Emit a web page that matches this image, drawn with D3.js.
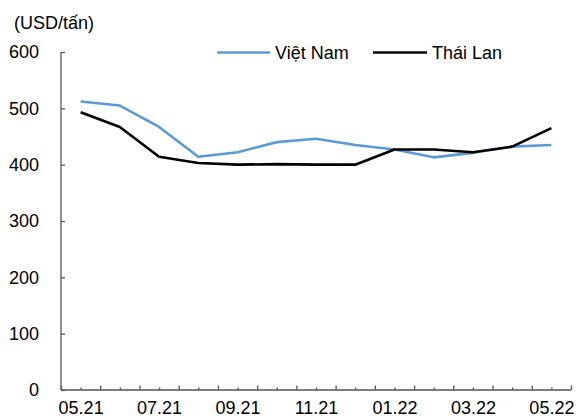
<!DOCTYPE html>
<html>
<head>
<meta charset="utf-8">
<script src="https://cdn.jsdelivr.net/npm/d3@7/dist/d3.min.js"></script>
<style>
  html, body { margin: 0; padding: 0; background: #fff; }
  svg { display: block; font-family: "Liberation Sans", Arial, sans-serif; }
</style>
</head>
<body>
<svg id="chart" width="576" height="419"></svg>
<script>
const months = ["05.21","06.21","07.21","08.21","09.21","10.21","11.21","12.21","01.22","02.22","03.22","04.22","05.22"];
const vietNam = [512, 505, 467, 414, 422, 440, 446, 435, 427, 413, 421, 432, 435];
const thaiLan = [493, 467, 414, 403, 400, 401, 400, 400, 427, 427, 422, 432, 465];
const yTicks = [0, 100, 200, 300, 400, 500, 600];
const seriesNames = ["Việt Nam", "Thái Lan"];
const seriesColors = ["#5B9BD5", "#000000"];

const svg = d3.select("#chart");
const mLeft = 61, mRight = 571, mTop = 52, mBottom = 390;
const axisColor = "#555555";

const x = d3.scaleLinear().domain([-0.5, months.length - 0.5]).range([mLeft, mRight]);
const y = d3.scaleLinear().domain([0, 600]).range([mBottom, mTop]);

// Y axis
const yAxis = svg.append("g").attr("transform", `translate(${mLeft},0)`)
  .call(d3.axisLeft(y).tickValues(yTicks).tickSize(-4).tickPadding(22).tickFormat(d3.format("d")));
yAxis.select(".domain").attr("stroke", axisColor).attr("stroke-width", 1.3).attr("d", `M0,${mTop}V${mBottom}`);
yAxis.selectAll(".tick line").attr("stroke", axisColor).attr("stroke-width", 1.3);
yAxis.selectAll(".tick text").attr("font-size", 18).attr("fill", "#000").attr("font-family", "Liberation Sans, Arial, sans-serif");

// X axis: major ticks at category boundaries
const majors = d3.range(-0.5, months.length, 1);
const minors = d3.range(0, months.length, 1);
const xMajor = svg.append("g").attr("transform", `translate(0,${mBottom})`)
  .call(d3.axisBottom(x).tickValues(majors).tickSize(-4.5).tickFormat(""));
xMajor.select(".domain").attr("stroke", axisColor).attr("stroke-width", 1.3).attr("d", `M${mLeft},0H${mRight}`);
xMajor.selectAll(".tick line").attr("stroke", axisColor).attr("stroke-width", 1.3);

const xMinor = svg.append("g").attr("transform", `translate(0,${mBottom})`)
  .call(d3.axisBottom(x).tickValues(minors).tickSize(-2.5).tickFormat(""));
xMinor.select(".domain").remove();
xMinor.selectAll(".tick line").attr("stroke", axisColor).attr("stroke-width", 1.3);

const labelIdx = minors.filter(i => i % 2 === 0);
const xLabels = svg.append("g").attr("transform", `translate(0,${mBottom})`)
  .call(d3.axisBottom(x).tickValues(labelIdx).tickSize(0).tickPadding(11).tickFormat(i => months[i]));
xLabels.select(".domain").remove();
xLabels.selectAll(".tick text").attr("font-size", 18).attr("fill", "#000").attr("font-family", "Liberation Sans, Arial, sans-serif");

// Lines
const line = d3.line().x((d, i) => x(i)).y(d => y(d));
[vietNam, thaiLan].forEach((s, k) => {
  svg.append("path").datum(s)
    .attr("fill", "none")
    .attr("stroke", seriesColors[k])
    .attr("stroke-width", 2.6)
    .attr("stroke-linejoin", "round")
    .attr("d", line);
});

// Unit label
svg.append("text").attr("x", 14).attr("y", 29).attr("font-size", 18).attr("fill", "#000").text("(USD/tấn)");

// Legend
const legend = [
  { x1: 217, x2: 270, tx: 275 },
  { x1: 373, x2: 427, tx: 432 }
];
legend.forEach((l, k) => {
  svg.append("line").attr("x1", l.x1).attr("x2", l.x2).attr("y1", 52.5).attr("y2", 52.5)
    .attr("stroke", seriesColors[k]).attr("stroke-width", 2.6);
  svg.append("text").attr("x", l.tx).attr("y", 59).attr("font-size", 18).attr("fill", "#000").text(seriesNames[k]);
});
</script>
</body>
</html>
